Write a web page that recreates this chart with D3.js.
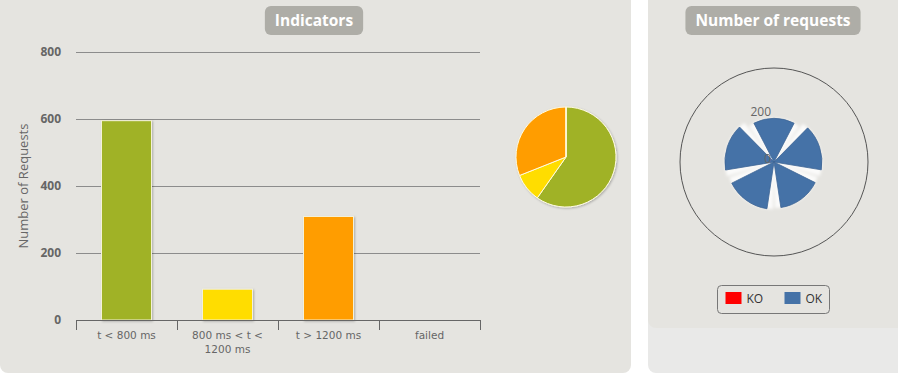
<!DOCTYPE html>
<html>
<head>
<meta charset="utf-8">
<script src="https://cdn.jsdelivr.net/npm/d3@7"></script>
<style>
  body { margin: 0; background: #fff; }
  svg { display: block; font-family: "Open Sans", "DejaVu Sans", sans-serif; }
</style>
</head>
<body>
<div id="chart"></div>
<script>
// Response time ranges
const categories = ["t < 800 ms", "800 ms < t < 1200 ms", "t > 1200 ms", "failed"];
const counts = [595, 92, 309, 0];
const rangeColors = ["#A0B228", "#FFDD00", "#FF9D00", "#FF0000"];
const yTicks = [0, 200, 400, 600, 800];

// Number of requests per request name
const requestNames = ["request_1", "request_2", "request_3", "request_4", "request_5"];
const okCounts = [186, 204, 196, 201, 209];
const koCounts = [0, 0, 0, 0, 0];
const radialTicks = [0, 200];
const legendItems = ["KO", "OK"];
const legendColors = ["#FF0000", "#4572A7"];

const width = 898, height = 377;

const svg = d3.select("#chart")
    .append("svg")
    .attr("width", width)
    .attr("height", height);

const defs = svg.append("defs");
const shadow = defs.append("filter").attr("id", "shadow")
    .attr("x", "-20%").attr("y", "-20%").attr("width", "140%").attr("height", "140%");
shadow.append("feDropShadow")
    .attr("dx", 1).attr("dy", 1).attr("stdDeviation", 1.2)
    .attr("flood-color", "#000").attr("flood-opacity", 0.25);
const glow = defs.append("filter").attr("id", "glow")
    .attr("x", "-30%").attr("y", "-30%").attr("width", "160%").attr("height", "160%");
glow.append("feGaussianBlur").attr("stdDeviation", 1.5);

// Panels
svg.append("rect")
    .attr("x", 0).attr("y", -10).attr("width", 631).attr("height", 383)
    .attr("rx", 8).attr("fill", "#E5E4E0");
svg.append("rect")
    .attr("x", 648).attr("y", -10).attr("width", 270).attr("height", 383)
    .attr("rx", 8).attr("fill", "#E9E9E8");
svg.append("rect")
    .attr("x", 648).attr("y", -10).attr("width", 270).attr("height", 338)
    .attr("rx", 8).attr("fill", "#E5E4E0");

// Title badges
function badge(cx, label) {
    const g = svg.append("g");
    const t = g.append("text")
        .attr("x", cx).attr("y", 26)
        .attr("text-anchor", "middle")
        .attr("fill", "#fff")
        .attr("font-weight", "bold")
        .attr("font-size", "15.5px")
        .text(label);
    const w = t.node().getComputedTextLength();
    g.insert("rect", "text")
        .attr("x", cx - w / 2 - 10).attr("y", 6)
        .attr("width", w + 20).attr("height", 29)
        .attr("rx", 6).attr("fill", "#AEADA7");
}
badge(314, "Indicators");
badge(773, "Number of requests");

// Bar chart
const x = d3.scaleBand().domain(categories).range([76, 480]);
const y = d3.scaleLinear().domain([0, 800]).range([320, 52]);

const grid = svg.append("g");
grid.selectAll("line")
    .data(yTicks.filter(d => d > 0))
    .enter().append("line")
    .attr("x1", 76).attr("x2", 480)
    .attr("y1", d => y(d)).attr("y2", d => y(d))
    .attr("stroke", "#8c8c8c").attr("stroke-width", 1)
    .attr("shape-rendering", "crispEdges");

svg.append("g").selectAll("text")
    .data(yTicks)
    .enter().append("text")
    .attr("x", 61).attr("y", d => y(d) + 4)
    .attr("text-anchor", "end")
    .attr("font-size", "12px").attr("font-weight", "bold")
    .attr("fill", "#666")
    .text(d => d);

svg.append("text")
    .attr("transform", `translate(28, ${(y(0) + y(800)) / 2}) rotate(-90)`)
    .attr("text-anchor", "middle")
    .attr("font-size", "13px")
    .attr("fill", "#666")
    .text("Number of Requests");

svg.append("g").selectAll("rect")
    .data(categories)
    .enter().append("rect")
    .attr("x", d => x(d) + x.bandwidth() / 2 - 25)
    .attr("y", (d, i) => y(counts[i]))
    .attr("width", 50)
    .attr("height", (d, i) => y(0) - y(counts[i]))
    .attr("fill", (d, i) => rangeColors[i])
    .attr("stroke", "#f4f1d8").attr("stroke-width", 1)
    .attr("filter", "url(#shadow)")
    .style("display", (d, i) => counts[i] > 0 ? null : "none");

// X axis
const xAxis = svg.append("g");
xAxis.append("line")
    .attr("x1", 76).attr("x2", 480).attr("y1", 320.5).attr("y2", 320.5)
    .attr("stroke", "#666");
xAxis.selectAll(".tick")
    .data(categories.concat([null]))
    .enter().append("line")
    .attr("x1", (d, i) => Math.round(76 + i * x.bandwidth()) + 0.5)
    .attr("x2", (d, i) => Math.round(76 + i * x.bandwidth()) + 0.5)
    .attr("y1", 320).attr("y2", 330)
    .attr("stroke", "#666");

const labels = xAxis.selectAll(".lbl")
    .data(categories)
    .enter().append("text")
    .attr("x", d => x(d) + x.bandwidth() / 2)
    .attr("y", 339)
    .attr("text-anchor", "middle")
    .style("font-family", "'DejaVu Sans', sans-serif")
    .attr("font-size", "10.5px")
    .attr("fill", "#666");

labels.each(function (d) {
    const t = d3.select(this);
    const words = d.split(" ");
    let line = [];
    let tspan = t.append("tspan").attr("x", t.attr("x")).attr("dy", 0);
    words.forEach(w => {
        line.push(w);
        tspan.text(line.join(" "));
        if (tspan.node().getComputedTextLength() > 92 && line.length > 1) {
            line.pop();
            tspan.text(line.join(" "));
            line = [w];
            tspan = t.append("tspan").attr("x", t.attr("x")).attr("dy", 14).text(w);
        }
    });
});

// Pie
const pie = d3.pie().sort(null).value(d => d)(counts);
const arc = d3.arc().innerRadius(0).outerRadius(50);
svg.append("g")
    .attr("transform", "translate(566, 157)")
    .attr("filter", "url(#shadow)")
    .selectAll("path")
    .data(pie)
    .enter().append("path")
    .attr("d", arc)
    .attr("fill", (d, i) => rangeColors[i])
    .attr("stroke", "#fffbe0").attr("stroke-width", 1);

// Polar column chart
const cx = 774, cy = 162;
const r = d3.scaleLinear().domain([0, 400]).range([0, 94]);
const angle = d3.scaleBand().domain(requestNames).range([-Math.PI / 5, 2 * Math.PI - Math.PI / 5]);
const polar = svg.append("g").attr("transform", `translate(${cx}, ${cy})`);

polar.append("circle")
    .attr("r", r(400))
    .attr("fill", "none").attr("stroke", "#555").attr("stroke-width", 1);

const colArc = pad => d3.arc()
    .innerRadius(0)
    .outerRadius(d => r(d.value))
    .startAngle(d => angle(d.name) + pad)
    .endAngle(d => angle(d.name) + angle.bandwidth() - pad);

const stacked = requestNames.map((n, i) => ({ name: n, value: okCounts[i] + koCounts[i], ok: okCounts[i] }));

polar.append("g").attr("filter", "url(#glow)")
    .selectAll("path")
    .data(stacked)
    .enter().append("path")
    .attr("d", colArc(0.02))
    .attr("fill", "#fff").attr("opacity", 0.85);

polar.append("g")
    .selectAll("path")
    .data(stacked)
    .enter().append("path")
    .attr("d", colArc(0.15))
    .attr("fill", "#4572A7")
    .attr("stroke", "#3d6494").attr("stroke-width", 0.8);

polar.selectAll(".rtick")
    .data(radialTicks)
    .enter().append("text")
    .attr("x", -3)
    .attr("y", d => -r(d) + 1)
    .attr("text-anchor", "end")
    .attr("font-size", "12px")
    .attr("fill", "#666")
    .text(d => d);

// Legend
const legend = svg.append("g").attr("transform", "translate(717.5, 285.5)");
legend.append("rect")
    .attr("width", 112).attr("height", 28).attr("rx", 4)
    .attr("fill", "none").attr("stroke", "#777").attr("stroke-width", 1);
const li = legend.selectAll(".item")
    .data(legendItems)
    .enter().append("g")
    .attr("transform", (d, i) => `translate(${8 + i * 59}, 0)`);
li.append("rect")
    .attr("x", 0).attr("y", 6.5).attr("width", 16).attr("height", 12)
    .attr("fill", (d, i) => legendColors[i]);
li.append("text")
    .attr("x", 21).attr("y", 17.5)
    .attr("font-size", "12px")
    .attr("fill", "#333")
    .text(d => d);
</script>
</body>
</html>
